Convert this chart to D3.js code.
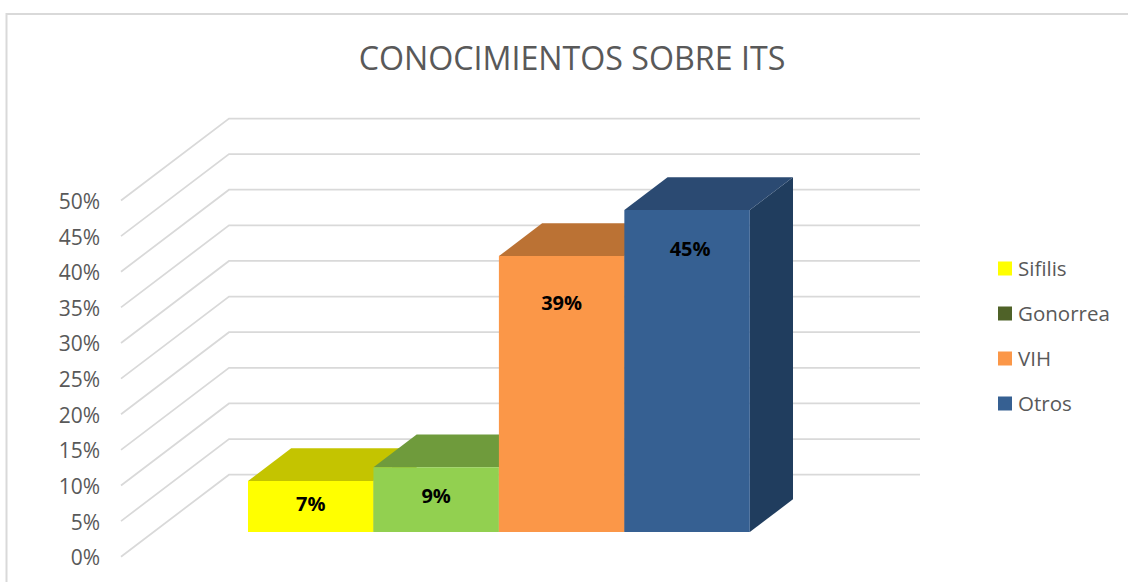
<!DOCTYPE html>
<html><head><meta charset="utf-8">
<style>html,body{margin:0;padding:0;background:#fff}svg{display:block}text{font-family:"Open Sans",sans-serif}</style>
<script src="https://cdn.jsdelivr.net/npm/d3@7/dist/d3.min.js"></script></head>
<body><svg id="c" width="1128" height="582"></svg>
<script>
const categories=["Sifilis","Gonorrea","VIH","Otros"];
const values=[7.16,9.1,38.74,45.2];
const labels=["7%","9%","39%","45%"];
const frontColors=["#ffff00","#92d050","#fb9748","#366092"];
const topColors=["#c4c400","#6f9b3c","#bb7234","#2b4a72"];
const sideColors=["#a0a000","#5c8030","#96592a","#203d5e"];
const legendColors=["#ffff00","#4f6228","#fb9748","#366092"];
const ticks=[0,5,10,15,20,25,30,35,40,45,50];

const svg=d3.select("#c");
const y=d3.scaleLinear().domain([0,50]).range([556.7,200.5]);
const x=d3.scaleLinear().domain([0,1]).range([121,812]);
const depthX=d3.scaleLinear().domain([0,1]).range([0,108]);
const depthY=d3.scaleLinear().domain([0,1]).range([0,-82]);
const band=d3.scaleBand().domain(categories).range([x(0.1369),x(0.8631)]);
const P=(px,v,t)=>[px+depthX(t),y(v)+depthY(t)];
const line=d3.line();

// chart frame
svg.append("path").attr("d","M1128,14H6.5V582").attr("fill","none").attr("stroke","#d9d9d9").attr("stroke-width",2);

// title
svg.append("text").attr("x",572).attr("y",70).attr("text-anchor","middle")
  .attr("font-size",32.2).attr("fill","#595959").text("CONOCIMIENTOS SOBRE ITS");

// gridlines
svg.append("g").selectAll("path").data(ticks).join("path")
  .attr("d",d=>line([P(x(0),d,0),P(x(0),d,1),P(x(1),d,1)]))
  .attr("fill","none").attr("stroke","#d9d9d9").attr("stroke-width",1.75);

// axis labels
svg.append("g").selectAll("text").data(ticks).join("text")
  .attr("x",100).attr("y",d=>y(d)+8.5).attr("text-anchor","end")
  .attr("font-size",21).attr("fill","#595959").text(d=>d+"%");

// bars
const T0=0.30,T1=0.70;
const bars=svg.append("g").selectAll("g").data(categories).join("g");
bars.each(function(c,i){
  const g=d3.select(this),v=values[i],a=band(c),b=a+band.bandwidth();
  g.append("path").attr("fill",sideColors[i]).attr("d",line([P(b,0,T0),P(b,0,T1),P(b,v,T1),P(b,v,T0)])+"Z");
  g.append("path").attr("fill",topColors[i]).attr("d",line([P(a,v,T0),P(a,v,T1),P(b,v,T1),P(b,v,T0)])+"Z");
  g.append("path").attr("fill",frontColors[i]).attr("d",line([P(a,0,T0),P(a,v,T0),P(b,v,T0),P(b,0,T0)])+"Z");
});

// data labels
const labelY=[511,503,310,256];
svg.append("g").selectAll("text").data(categories).join("text")
  .attr("x",(c,i)=>band(c)+band.bandwidth()/2+depthX(T0)+(i==3?3:0))
  .attr("y",(c,i)=>labelY[i]).attr("text-anchor","middle")
  .attr("font-size",20).attr("font-weight",700).attr("fill","#000")
  .text((c,i)=>labels[i]);

// legend
const ly=d3.scalePoint().domain(categories).range([268.5,403.5]);
const leg=svg.append("g").selectAll("g").data(categories).join("g");
leg.append("rect").attr("x",998).attr("y",c=>ly(c)-7).attr("width",14).attr("height",14).attr("fill",(c,i)=>legendColors[i]);
leg.append("text").attr("x",1018).attr("y",c=>ly(c)+7.5).attr("font-size",20.5).attr("fill","#595959").text(c=>c);
</script></body></html>
